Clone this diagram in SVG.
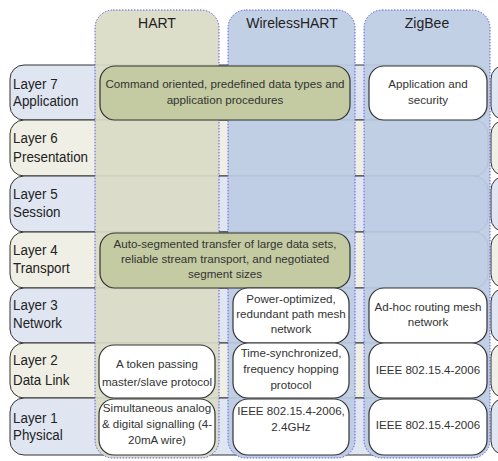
<svg xmlns="http://www.w3.org/2000/svg" width="498" height="461" viewBox="0 0 498 461">
<style>
.rowb{fill:#dfe6f2;stroke:#333;stroke-width:1}
.rowy{fill:#efefe5;stroke:#333;stroke-width:1}
.col{stroke:#5b5be0;stroke-width:1;stroke-dasharray:1.5 1.5;fill-opacity:0.92}
.hart{fill:#dadbc5}
.blue{fill:#bdcce4}
.box{fill:#ffffff;stroke:#333;stroke-width:1.2}
.olive{fill:#c4caa2;stroke:#333;stroke-width:1.2}
.lbl{font-family:"Liberation Sans",Arial,sans-serif;font-size:15.2px;fill:#222}
.hdr{font-family:"Liberation Sans",Arial,sans-serif;font-size:14px;fill:#222;text-anchor:middle}
.t{font-family:"Liberation Sans",Arial,sans-serif;font-size:11.6px;fill:#333;text-anchor:middle}
</style>
<rect width="498" height="461" fill="#ffffff"/>
<g id="rows">
  <g id="layer7"><rect class="rowb" x="10" y="65" width="478" height="55" rx="14"/><rect class="rowb" x="491" y="65" width="100" height="55" rx="14"/><text class="lbl" transform="scale(0.88,1)" x="14.8" y="89">Layer 7</text><text class="lbl" transform="scale(0.88,1)" x="14.8" y="106">Application</text></g>
  <g id="layer6"><rect class="rowy" x="10" y="120" width="478" height="56" rx="14"/><rect class="rowy" x="491" y="120" width="100" height="56" rx="14"/><text class="lbl" transform="scale(0.88,1)" x="14.8" y="143">Layer 6</text><text class="lbl" transform="scale(0.88,1)" x="14.8" y="162">Presentation</text></g>
  <g id="layer5"><rect class="rowb" x="10" y="176" width="478" height="56" rx="14"/><rect class="rowb" x="491" y="176" width="100" height="56" rx="14"/><text class="lbl" transform="scale(0.88,1)" x="14.8" y="199">Layer 5</text><text class="lbl" transform="scale(0.88,1)" x="14.8" y="217">Session</text></g>
  <g id="layer4"><rect class="rowy" x="10" y="232" width="478" height="56" rx="14"/><rect class="rowy" x="491" y="232" width="100" height="56" rx="14"/><text class="lbl" transform="scale(0.88,1)" x="14.8" y="255">Layer 4</text><text class="lbl" transform="scale(0.88,1)" x="14.8" y="273">Transport</text></g>
  <g id="layer3"><rect class="rowb" x="10" y="288" width="478" height="55" rx="14"/><rect class="rowb" x="491" y="288" width="100" height="55" rx="14"/><text class="lbl" transform="scale(0.88,1)" x="14.8" y="310">Layer 3</text><text class="lbl" transform="scale(0.88,1)" x="14.8" y="328">Network</text></g>
  <g id="layer2"><rect class="rowy" x="10" y="343" width="478" height="55" rx="14"/><rect class="rowy" x="491" y="343" width="100" height="55" rx="14"/><text class="lbl" transform="scale(0.88,1)" x="14.8" y="365">Layer 2</text><text class="lbl" transform="scale(0.88,1)" x="14.8" y="385">Data Link</text></g>
  <g id="layer1"><rect class="rowb" x="10" y="398" width="478" height="57" rx="14"/><rect class="rowb" x="491" y="398" width="100" height="57" rx="14"/><text class="lbl" transform="scale(0.88,1)" x="14.8" y="423">Layer 1</text><text class="lbl" transform="scale(0.88,1)" x="14.8" y="440">Physical</text></g>
</g>
<g id="columns">
  <g id="col-hart"><rect class="col hart" x="95" y="10" width="124" height="448" rx="18"/><text class="hdr" x="157" y="28">HART</text></g>
  <g id="col-wirelesshart"><rect class="col blue" x="228" y="10" width="127" height="448" rx="18"/><text class="hdr" x="292" y="28">WirelessHART</text></g>
  <g id="col-zigbee"><rect class="col blue" x="364" y="10" width="126" height="448" rx="18"/><text class="hdr" x="427" y="28">ZigBee</text></g>
</g>
<g id="connectors"></g>
<g id="cells">
  <g id="app-hart-whart"><rect class="olive" x="100" y="66" width="250" height="54" rx="15"/><text class="t" x="225" y="88">Command oriented, predefined data types and</text><text class="t" x="225" y="104">application procedures</text></g>
  <g id="app-zigbee"><rect class="box" x="369" y="66" width="118" height="54" rx="15"/><text class="t" x="428" y="88">Application and</text><text class="t" x="428" y="104">security</text></g>
  <g id="transport-hart-whart"><rect class="olive" x="100" y="233" width="250" height="55" rx="15"/><text class="t" x="225" y="248">Auto-segmented transfer of large data sets,</text><text class="t" x="225" y="263">reliable stream transport, and negotiated</text><text class="t" x="225" y="278">segment sizes</text></g>
  <g id="net-whart"><rect class="box" x="233" y="288" width="116" height="55" rx="15"/><text class="t" x="291" y="303">Power-optimized,</text><text class="t" x="291" y="318">redundant path mesh</text><text class="t" x="291" y="333">network</text></g>
  <g id="net-zigbee"><rect class="box" x="369" y="288" width="118" height="55" rx="15"/><text class="t" x="428" y="311">Ad-hoc routing mesh</text><text class="t" x="428" y="326">network</text></g>
  <g id="dl-hart"><rect class="box" x="99" y="345" width="116" height="53" rx="15"/><text class="t" x="157" y="368">A token passing</text><text class="t" x="157" y="386">master/slave protocol</text></g>
  <g id="dl-whart"><rect class="box" x="233" y="343" width="116" height="55" rx="15"/><text class="t" x="291" y="357">Time-synchronized,</text><text class="t" x="291" y="373">frequency hopping</text><text class="t" x="291" y="389">protocol</text></g>
  <g id="dl-zigbee"><rect class="box" x="369" y="343" width="118" height="55" rx="15"/><text class="t" x="428" y="374">IEEE 802.15.4-2006</text></g>
  <g id="phy-hart"><rect class="box" x="99" y="399" width="116" height="56" rx="15"/><text class="t" x="157" y="412">Simultaneous analog</text><text class="t" x="157" y="428">&amp; digital signalling (4-</text><text class="t" x="157" y="444">20mA wire)</text></g>
  <g id="phy-whart"><rect class="box" x="233" y="399" width="116" height="56" rx="15"/><text class="t" x="291" y="415">IEEE 802.15.4-2006,</text><text class="t" x="291" y="431">2.4GHz</text></g>
  <g id="phy-zigbee"><rect class="box" x="369" y="399" width="118" height="56" rx="15"/><text class="t" x="428" y="429">IEEE 802.15.4-2006</text></g>
</g>
</svg>
